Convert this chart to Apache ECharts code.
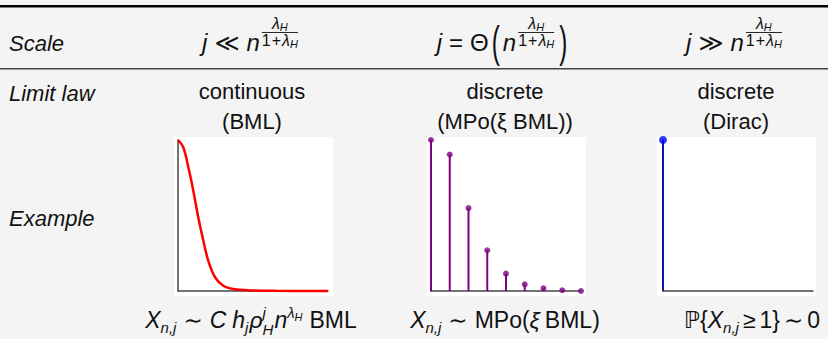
<!DOCTYPE html>
<html>
<head>
<meta charset="utf-8">
<script src="https://cdn.jsdelivr.net/npm/echarts@6/dist/echarts.min.js"></script>
<style>
  html, body { margin: 0; padding: 0; background: #f4f4f4; }
  #chart { width: 828px; height: 339px; }
</style>
</head>
<body>
<div id="chart"></div>
<script>
// continuous limit (BML density)
const bmlX = [0, 0.035, 0.069, 0.102, 0.135, 0.169, 0.202, 0.247, 0.302, 0.369, 0.48, 0.65, 1.0]
const bmlY = [1.0, 0.952, 0.819, 0.664, 0.488, 0.333, 0.2, 0.091, 0.035, 0.013, 0.004, 0.001, 0]

// discrete limit MPo(xi BML), middle panel
const mpoK = [0, 1, 2, 3, 4, 5, 6, 7, 8]
const mpoP = [1, 0.904, 0.549, 0.27, 0.115, 0.044, 0.018, 0.005, 0.0]

// Dirac mass at 0, right panel
const diracK = [0]
const diracP = [1]

const rowLabels = ['Scale', 'Limit law', 'Example']
const lawLines = [
  ['continuous', '(BML)'],
  ['discrete', '(MPo(ξ BML))'],
  ['discrete', '(Dirac)'],
]

const FONT = "'Liberation Sans', 'DejaVu Sans', sans-serif"
const INK = '#111111'
const colX = [252, 505, 736]
const scaleX = [250, 502, 734]
const exampleX = [251, 505, 752]
const panelLeft = [174, 427, 657]

const ctx = document.createElement('canvas').getContext('2d')
const fontOf = (size, it) => (it ? 'italic ' : '') + size + 'px ' + FONT
function measure(t, size, it) {
  ctx.font = fontOf(size, it)
  return ctx.measureText(t).width
}

// tiny inline math layout: pieces -> positioned text runs
function lay(pieces, base) {
  let x = 0
  const items = []
  const lines = []
  for (const p of pieces) {
    if (p.sp) { x += p.sp; continue }
    if (p.stack) {
      const rows = p.stack.map((r) => ({ r, l: lay(r.p, base) }))
      const w = Math.max(...rows.map((o) => o.l.w))
      rows.forEach((o) => {
        const off = p.left ? 0 : (w - o.l.w) / 2
        o.l.items.forEach((it) => items.push({ ...it, x: x + off + it.x, dy: it.dy + o.r.dy }))
      })
      if (p.bar != null) lines.push({ x1: x, x2: x + w, dy: p.bar })
      x += w
      continue
    }
    const size = p.size || base
    const sx = p.sx || 1
    items.push({ t: p.t, x, dy: p.dy || 0, size, it: !!p.it, sx })
    x += measure(p.t, size, !!p.it) * sx
  }
  return { w: x, items, lines }
}

function mathText(pieces, cx, baseline, base) {
  const l = lay(pieces, base)
  const x0 = cx - l.w / 2
  const out = l.items.map((it) => ({
    type: 'text',
    x: x0 + it.x,
    y: baseline + it.dy - 0.31 * it.size,
    scaleX: it.sx,
    silent: true,
    style: {
      text: it.t, x: 0, y: 0, font: fontOf(it.size, it.it), fill: INK,
      align: 'left', verticalAlign: 'middle',
    },
  }))
  l.lines.forEach((ln) => out.push({
    type: 'line',
    silent: true,
    shape: { x1: x0 + ln.x1, y1: baseline + ln.dy, x2: x0 + ln.x2, y2: baseline + ln.dy },
    style: { stroke: INK, lineWidth: 0.9 },
  }))
  return out
}

function plainText(text, x, baseline, opts = {}) {
  const size = opts.size || 22
  return {
    type: 'text',
    x, y: baseline - 0.31 * size,
    silent: true,
    style: {
      text, x: 0, y: 0, font: fontOf(size, opts.it), fill: INK,
      align: opts.align || 'left', verticalAlign: 'middle',
    },
  }
}

// exponent lambda_H / (1 + lambda_H)
const expFrac = () => ({
  stack: [
    { dy: -21.5, p: [{ t: 'λ', size: 16, it: true }, { t: 'H', size: 11, it: true, dy: 1.5 }] },
    { dy: -4.5, p: [{ t: '1', size: 16 }, { sp: 1 }, { t: '+', size: 16 }, { sp: 1 }, { t: 'λ', size: 16, it: true }, { t: 'H', size: 11, it: true, dy: 1.5 }] },
  ],
  bar: -17.5,
})

const scaleFormulas = [
  [{ t: 'j', it: true }, { sp: 7 }, { t: '≪' }, { sp: 7 }, { t: 'n', it: true }, { sp: 2 }, expFrac()],
  [
    { t: 'j', it: true }, { sp: 7 }, { t: '=' }, { sp: 7 }, { t: 'Θ' }, { sp: 3 },
    { t: '(', size: 44, sx: 0.55, dy: 6 }, { sp: 3 }, { t: 'n', it: true }, { sp: 2 }, expFrac(),
    { sp: 5 }, { t: ')', size: 44, sx: 0.55, dy: 6 },
  ],
  [{ t: 'j', it: true }, { sp: 7 }, { t: '≫' }, { sp: 7 }, { t: 'n', it: true }, { sp: 2 }, expFrac()],
]

const subNJ = () => ({ t: 'n,j', size: 15, it: true, dy: 5 })
const exampleFormulas = [
  [
    { t: 'X', it: true }, subNJ(), { sp: 7 }, { t: '∼' }, { sp: 7 }, { t: 'C', it: true }, { sp: 6 },
    { t: 'h', it: true }, { t: 'j', size: 15, it: true, dy: 5 }, { sp: 1 }, { t: 'ρ', it: true },
    { stack: [{ dy: -10, p: [{ t: 'j', size: 15, it: true }] }, { dy: 7, p: [{ t: 'H', size: 15, it: true }] }], left: true },
    { sp: 1 }, { t: 'n', it: true }, { t: 'λ', size: 15, it: true, dy: -10 }, { t: 'H', size: 11, it: true, dy: -7 },
    { sp: 7 }, { t: 'BML' },
  ],
  [
    { t: 'X', it: true }, subNJ(), { sp: 7 }, { t: '∼' }, { sp: 7 }, { t: 'MPo(' }, { t: 'ξ', it: true },
    { sp: 5 }, { t: 'BML)' },
  ],
  [
    { t: 'ℙ' }, { t: '{' }, { t: 'X', it: true }, subNJ(), { sp: 4 }, { t: '≥' }, { sp: 4 }, { t: '1}' },
    { sp: 4 }, { t: '∼' }, { sp: 4 }, { t: '0' },
  ],
]

const graphics = [
  { type: 'rect', z: -10, shape: { x: 0, y: 5, width: 828, height: 2.5 }, style: { fill: '#000' } },
  { type: 'rect', z: -10, shape: { x: 0, y: 68, width: 828, height: 1.5 }, style: { fill: '#444' } },
  ...panelLeft.map((x) => ({
    type: 'rect', z: -10, shape: { x, y: 137, width: 159, height: 159 }, style: { fill: '#fff' },
  })),
  plainText(rowLabels[0], 9, 50, { it: true }),
  plainText(rowLabels[1], 9, 100, { it: true }),
  plainText(rowLabels[2], 9, 225, { it: true }),
  ...lawLines.flatMap((pair, i) => [
    plainText(pair[0], colX[i], 98, { align: 'center' }),
    plainText(pair[1], colX[i], 128, { align: 'center' }),
  ]),
  ...scaleFormulas.flatMap((f, i) => mathText(f, scaleX[i], 50, 24)),
  ...exampleFormulas.flatMap((f, i) => mathText(f, exampleX[i], 327, 23)),
]

const axisPair = (gi, xMax) => ({
  x: {
    type: 'value', gridIndex: gi, min: 0, max: xMax,
    axisLine: { show: true, onZero: false, lineStyle: { color: '#444', width: 1.5 } },
    axisTick: { show: false }, axisLabel: { show: false }, splitLine: { show: false },
  },
  y: {
    type: 'value', gridIndex: gi, min: 0, max: 1,
    axisLine: { show: true, onZero: false, lineStyle: { color: '#444', width: 1.5 } },
    axisTick: { show: false }, axisLabel: { show: false }, splitLine: { show: false },
  },
})
const axes = [axisPair(0, 1), axisPair(1, 8), axisPair(2, 1)]

const stem = (color) => (params, api) => {
  const top = api.coord([api.value(0), api.value(1)])
  const bot = api.coord([api.value(0), 0])
  return {
    type: 'line',
    shape: { x1: top[0], y1: top[1], x2: bot[0], y2: bot[1] },
    style: { stroke: color, lineWidth: 2 },
  }
}

const chart = echarts.init(document.getElementById('chart'), null, { renderer: 'svg', width: 828, height: 339 })
chart.setOption({
  animation: false,
  backgroundColor: '#f4f4f4',
  grid: [
    { left: 178, top: 140, width: 150, height: 151 },
    { left: 431, top: 140, width: 150, height: 151 },
    { left: 663, top: 140, width: 150, height: 151 },
  ],
  xAxis: axes.map((a) => a.x),
  yAxis: axes.map((a) => a.y),
  graphic: graphics,
  series: [
    {
      type: 'line', xAxisIndex: 0, yAxisIndex: 0,
      data: bmlX.map((x, i) => [x, bmlY[i]]),
      smooth: 0.35, showSymbol: false, clip: false,
      lineStyle: { color: '#ff0000', width: 2.5 },
    },
    {
      type: 'custom', xAxisIndex: 1, yAxisIndex: 1,
      data: mpoK.map((k, i) => [k, mpoP[i]]),
      renderItem: stem('#800080'),
    },
    {
      type: 'scatter', xAxisIndex: 1, yAxisIndex: 1, clip: false,
      data: mpoK.map((k, i) => [k, mpoP[i]]),
      symbolSize: 6, itemStyle: { color: '#800080' },
    },
    {
      type: 'custom', xAxisIndex: 2, yAxisIndex: 2,
      data: diracK.map((k, i) => [k, diracP[i]]),
      renderItem: stem('#1414a8'),
    },
    {
      type: 'scatter', xAxisIndex: 2, yAxisIndex: 2, clip: false,
      data: diracK.map((k, i) => [k, diracP[i]]),
      symbolSize: 8, itemStyle: { color: '#0000ff' },
    },
  ],
})
</script>
</body>
</html>
